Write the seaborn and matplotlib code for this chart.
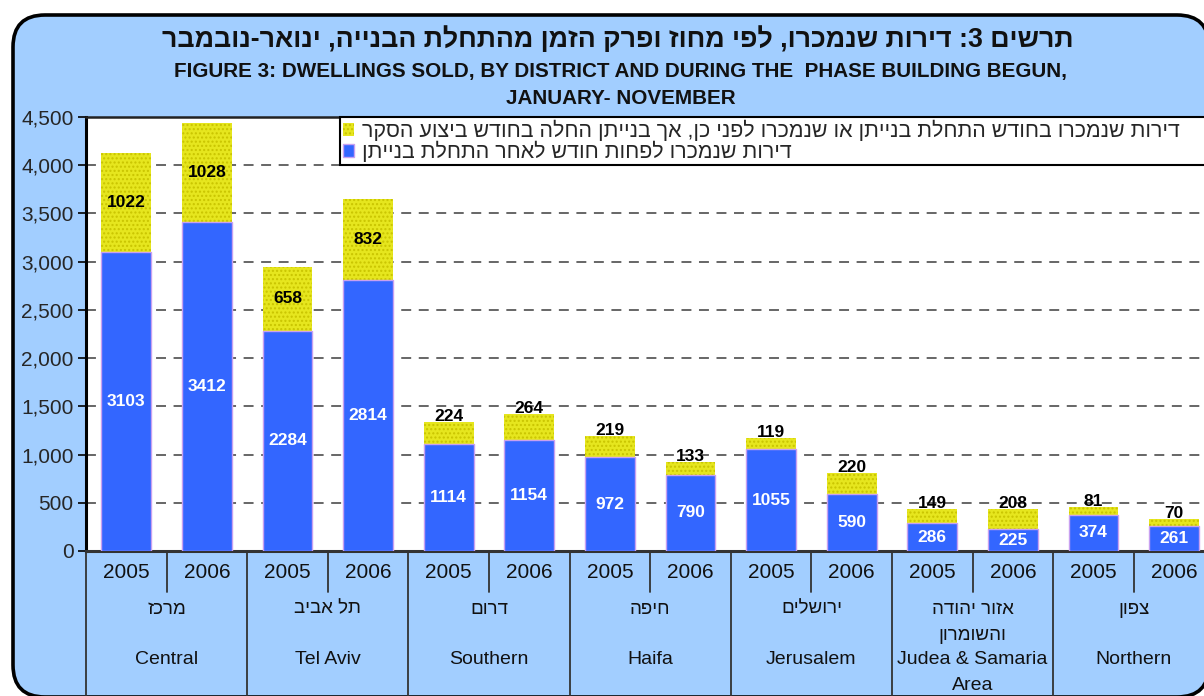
import re
import matplotlib
matplotlib.use("Agg")
import matplotlib.pyplot as plt
from matplotlib.patches import FancyBboxPatch, Patch
import seaborn as sns
import pandas as pd

# ---------------- data ----------------
districts_en = ["Central", "Tel Aviv", "Southern", "Haifa", "Jerusalem", "Judea & Samaria\nArea", "Northern"]
districts_he = ["מרכז", "תל אביב", "דרום", "חיפה", "ירושלים", "אזור יהודה\nוהשומרון", "צפון"]
years = ["2005", "2006"]
sold_after_start = [3103, 3412, 2284, 2814, 1114, 1154, 972, 790, 1055, 590, 286, 225, 374, 261]
sold_before_start = [1022, 1028, 658, 832, 224, 264, 219, 133, 119, 220, 149, 208, 81, 70]
yticks = [0, 500, 1000, 1500, 2000, 2500, 3000, 3500, 4000, 4500]
legend_labels = ["דירות שנמכרו בחודש התחלת בנייתן או שנמכרו לפני כן, אך בנייתן החלה בחודש ביצוע הסקר",
                 "דירות שנמכרו לפחות חודש לאחר התחלת בנייתן"]
title_he = "תרשים 3: דירות שנמכרו, לפי מחוז ופרק הזמן מהתחלת הבנייה, ינואר-נובמבר"
title_en1 = "FIGURE 3: DWELLINGS SOLD, BY DISTRICT AND DURING THE  PHASE BUILDING BEGUN,"
title_en2 = "JANUARY- NOVEMBER"

FONTS = ["Liberation Sans", "DejaVu Sans"]


def vis(s):
    """Convert logical-order RTL text into visual (left-to-right drawn) order."""
    out = []
    for line in s.split("\n"):
        if re.search(r"[\u0590-\u05FF]", line):
            toks = re.findall(r"[0-9A-Za-z]+|.", line)
            line = "".join(reversed(toks))
        out.append(line)
    return "\n".join(out)


sns.set_theme(style="white")
plt.rcParams["font.family"] = FONTS
plt.rcParams["hatch.linewidth"] = 1.0

W, H = 1204, 696
fig = plt.figure(figsize=(W / 100, H / 100), dpi=100)
fig.patch.set_facecolor("white")

# background layer in pixel coordinates
bg = fig.add_axes([0, 0, 1, 1], zorder=0)
bg.set_xlim(0, W)
bg.set_ylim(H, 0)
bg.axis("off")
box = FancyBboxPatch((13, 15), 1196, 682, boxstyle="round,pad=0,rounding_size=32",
                     facecolor="#A2CEFF", edgecolor="black", linewidth=2.6)
bg.add_patch(box)

bg.text(618, 40, vis(title_he), ha="center", va="center", fontsize=19.3, fontweight="bold", color="#111111")
bg.text(621, 72, title_en1, ha="center", va="center", fontsize=14.9, fontweight="bold", color="#111111")
bg.text(621, 98, title_en2, ha="center", va="center", fontsize=14.9, fontweight="bold", color="#111111")

# main axes
n = len(sold_after_start)
slot = 80.6
ax = fig.add_axes([86 / W, 145 / H, n * slot / W, 434 / H], zorder=2)
ax.set_facecolor("white")

labels = [f"{d}|{y}" for d in districts_en for y in years]
df = pd.DataFrame({"bar": labels,
                   "after": sold_after_start,
                   "before": sold_before_start})
df["total"] = df["after"] + df["before"]

sns.barplot(data=df, x="bar", y="total", order=labels, color="#E6E61E", saturation=1,
            width=0.62, ax=ax, edgecolor="#C9C400", linewidth=0, hatch="....", zorder=3)
sns.barplot(data=df, x="bar", y="after", order=labels, color="#3366FF", saturation=1,
            width=0.62, ax=ax, edgecolor="#C8A0F0", linewidth=1.0, zorder=4)

ax.set_xlim(-0.5, n - 0.5)
ax.set_ylim(0, 4500)
ax.set_yticks(yticks)
ax.set_yticklabels([f"{v:,}" for v in yticks], fontsize=15)
ax.set_xticks([])
ax.set_xlabel("")
ax.set_ylabel("")
ax.tick_params(axis="y", direction="out", length=6, width=1.2, color="black", pad=3, left=True)

for v in yticks[1:-1]:
    ax.axhline(v, color="#5a5a5a", lw=1.3, ls=(0, (5.5, 4.2)), zorder=1)

ax.spines["right"].set_visible(False)
ax.spines["left"].set_color("black")
ax.spines["left"].set_linewidth(2.2)
ax.spines["top"].set_color("#222222")
ax.spines["top"].set_linewidth(1.8)
ax.spines["bottom"].set_color("#333333")
ax.spines["bottom"].set_linewidth(2.2)

# value labels
for i, (a, b) in enumerate(zip(sold_after_start, sold_before_start)):
    ax.text(i, a / 2, f"{a}", ha="center", va="center", color="white",
            fontsize=12.5, fontweight="bold", zorder=6)
    yb = a + b / 2 if b >= 400 else a + b + 55
    ax.text(i, yb, f"{b}", ha="center", va="center", color="black",
            fontsize=12.5, fontweight="bold", zorder=6)

# category axis (three tiers)
tr = ax.get_xaxis_transform()
px = 1 / 434
for i in range(n):
    ax.text(i, -21 * px, years[i % 2], transform=tr, ha="center", va="center", fontsize=15,
            color="#111111", clip_on=False)
for k in range(n):
    if k % 2 == 1:
        ax.plot([k - 0.5, k - 0.5], [0, -41 * px], transform=tr, color="#333333", lw=1.3, clip_on=False)
for k in range(0, n + 1, 2):
    ax.plot([k - 0.5, k - 0.5], [0, -160 * px], transform=tr, color="#333333", lw=1.3, clip_on=False)
for j, (he, en) in enumerate(zip(districts_he, districts_en)):
    xc = 2 * j + 0.5
    for k, line in enumerate(he.split("\n")):
        ax.text(xc, -(58 + 26 * k) * px, vis(line), transform=tr, ha="center", va="center",
                fontsize=13.5, color="#111111", clip_on=False)
    for k, line in enumerate(en.split("\n")):
        ax.text(xc, -(109 + 25 * k) * px, line, transform=tr, ha="center", va="center",
                fontsize=14, color="#111111", clip_on=False)

# legend (box runs past the right edge, like the reference)
handles = [Patch(facecolor="#E6E61E", edgecolor="#C9C400", hatch="....", linewidth=0),
           Patch(facecolor="#3366FF", edgecolor="#C8A0F0", linewidth=1.0)]
leg = ax.legend(handles, [vis(t) for t in legend_labels], loc="upper left",
                bbox_to_anchor=(340, 117, 890, 47), bbox_transform=bg.transData, mode="expand",
                fontsize=15.4, frameon=True, fancybox=False, framealpha=1,
                edgecolor="black", borderpad=0.12, labelspacing=0.0,
                handlelength=0.55, handleheight=0.55, handletextpad=0.35, borderaxespad=0)
leg.get_frame().set_linewidth(1.5)
leg.set_zorder(10)

fig.savefig("out.png", dpi=100)
